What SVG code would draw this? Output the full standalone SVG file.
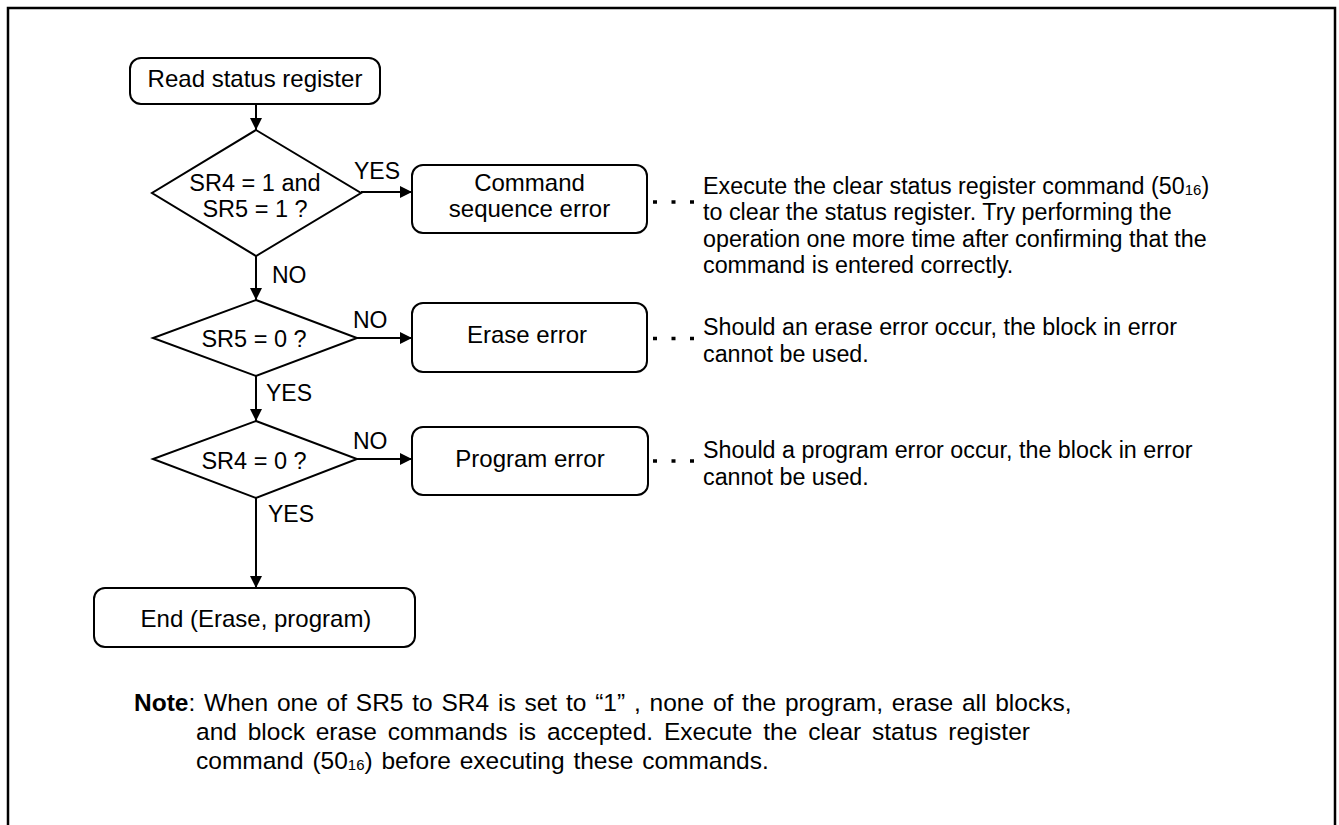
<svg xmlns="http://www.w3.org/2000/svg" width="1339" height="825" viewBox="0 0 1339 825">
<defs>
<marker id="arr" markerUnits="userSpaceOnUse" markerWidth="13" markerHeight="13" refX="12" refY="6" orient="auto">
<path d="M0,0 L12,6 L0,12 z" fill="#000"/>
</marker>
<style>
text{font-family:"Liberation Sans",Arial,sans-serif;font-size:24px;fill:#000}
.c{text-anchor:middle}
.dt{font-size:23.5px}
.lb{font-size:23px}
.rt{font-size:23.3px}
.nt{font-size:24.5px}
.box{fill:#fff;stroke:#000;stroke-width:2}
.ln{fill:none;stroke:#000;stroke-width:2}
.dot{fill:none;stroke:#000;stroke-width:3.5;stroke-dasharray:4 14.5}
.sub{font-size:15px}
</style>
</defs>
<rect width="1339" height="825" fill="#fff"/>
<path d="M8,826 V8 H1335 V826" fill="none" stroke="#000" stroke-width="2.5"/>

<g id="connectors">
<line class="ln" x1="256" y1="104" x2="256" y2="130" marker-end="url(#arr)"/>
<line class="ln" x1="361" y1="192" x2="412" y2="192" marker-end="url(#arr)"/>
<line class="ln" x1="256" y1="256" x2="256" y2="300" marker-end="url(#arr)"/>
<line class="ln" x1="357" y1="338" x2="412" y2="338" marker-end="url(#arr)"/>
<line class="ln" x1="256" y1="376" x2="256" y2="421" marker-end="url(#arr)"/>
<line class="ln" x1="357" y1="459" x2="412" y2="459" marker-end="url(#arr)"/>
<line class="ln" x1="256" y1="498" x2="256" y2="588" marker-end="url(#arr)"/>
<line class="dot" x1="653" y1="202" x2="700" y2="202"/>
<line class="dot" x1="653" y1="338.5" x2="700" y2="338.5"/>
<line class="dot" x1="653" y1="461" x2="700" y2="461"/>
<text class="lb" x="354" y="179">YES</text>
<text class="lb" x="272" y="283">NO</text>
<text class="lb" x="353" y="328">NO</text>
<text class="lb" x="266" y="401">YES</text>
<text class="lb" x="353" y="449">NO</text>
<text class="lb" x="268" y="522">YES</text>
</g>

<g id="read">
<rect class="box" x="130" y="58" width="250" height="46" rx="11"/>
<text class="c" x="255" y="87">Read status register</text>
</g>

<g id="d1">
<polygon class="box" points="256,130 361,193 256,256 152,193"/>
<text class="c dt" x="255" y="191">SR4 = 1 and</text>
<text class="c dt" x="255" y="217">SR5 = 1 ?</text>
</g>

<g id="cmd">
<rect class="box" x="412" y="165" width="235" height="68" rx="11"/>
<text class="c" x="529.5" y="191">Command</text>
<text class="c" x="529.5" y="217">sequence error</text>
</g>

<g id="d2">
<polygon class="box" points="256,300 357,338 256,376 153,338"/>
<text class="c dt" x="254" y="347">SR5 = 0 ?</text>
</g>

<g id="erase">
<rect class="box" x="412" y="303" width="235" height="69" rx="11"/>
<text class="c" x="527" y="343">Erase error</text>
</g>

<g id="d3">
<polygon class="box" points="256,421 357,459 256,498 153,459"/>
<text class="c dt" x="254" y="469">SR4 = 0 ?</text>
</g>

<g id="prog">
<rect class="box" x="412" y="427" width="236" height="68" rx="11"/>
<text class="c" x="530" y="467">Program error</text>
</g>

<g id="end">
<rect class="box" x="94" y="588" width="321" height="59" rx="11"/>
<text class="c" x="256" y="627">End (Erase, program)</text>
</g>

<g id="note1">
<text class="rt" x="703" y="193.5">Execute the clear status register command (50<tspan class="sub" dy="1">16</tspan><tspan dy="-1">)</tspan></text>
<text class="rt" x="703" y="220">to clear the status register. Try performing the</text>
<text class="rt" x="703" y="246.5">operation one more time after confirming that the</text>
<text class="rt" x="703" y="272.5">command is entered correctly.</text>
</g>

<g id="note2">
<text class="rt" x="703" y="335">Should an erase error occur, the block in error</text>
<text class="rt" x="703" y="361.5">cannot be used.</text>
</g>

<g id="note3">
<text class="rt" x="703" y="458">Should a program error occur, the block in error</text>
<text class="rt" x="703" y="484.5">cannot be used.</text>
</g>

<g id="note">
<text class="nt" x="134" y="711" word-spacing="2"><tspan font-weight="bold">Note</tspan>: When one of SR5 to SR4 is set to “1” , none of the program, erase all blocks,</text>
<text class="nt" x="196" y="740" word-spacing="4">and block erase commands is accepted. Execute the clear status register</text>
<text class="nt" x="196" y="769" word-spacing="2">command (50<tspan class="sub" dy="1">16</tspan><tspan dy="-1">)</tspan> before executing these commands.</text>
</g>
</svg>
